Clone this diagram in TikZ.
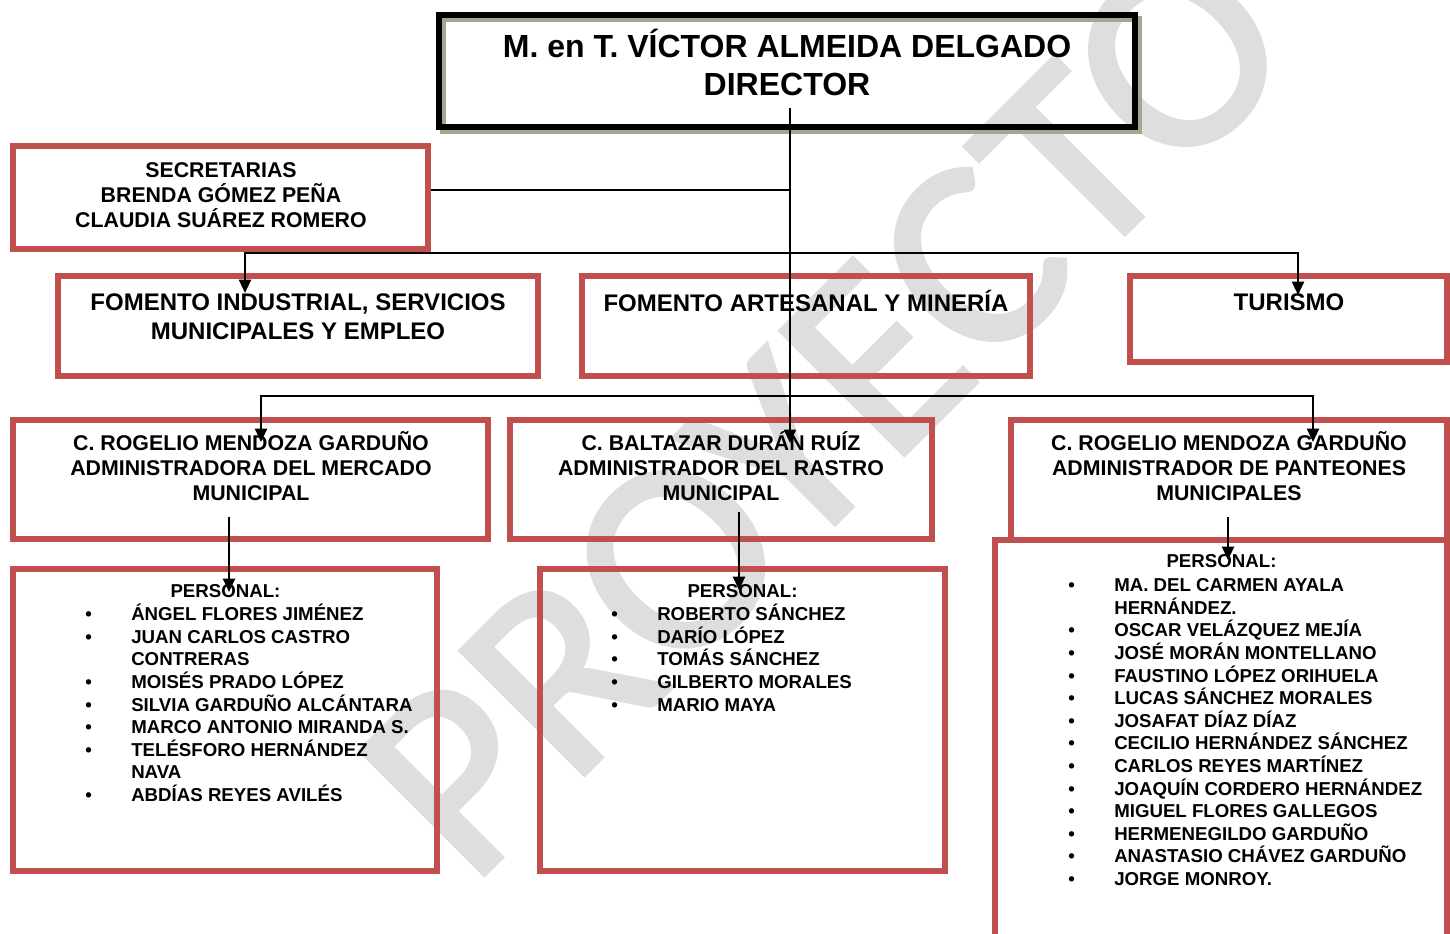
\documentclass[tikz,border=0pt]{standalone}
\usepackage{fontspec}
\setmainfont{Liberation Sans}
\newfontfamily\wmfont[FakeBold=1.6]{Carlito}
\usetikzlibrary{arrows.meta}
\definecolor{boxred}{HTML}{C0504D}
\definecolor{shadowgreen}{HTML}{A0AA8A}
\definecolor{wmgray}{HTML}{DEDEDE}
\newcommand\itm[1]{\hbox{\makebox[34.5pt][l]{•}#1}}
\newcommand\cnt[1]{\hbox{\hspace*{34.5pt}#1}}
\newcommand\lst[1]{\vtop{\baselineskip=16.95pt\lineskiplimit=-100pt\lineskip=0pt #1}}
\begin{document}
\begin{tikzpicture}[x=0.75pt,y=-0.75pt,
  redbox/.style={draw=boxred,line width=4.5pt,inner sep=0pt},
  blackbox/.style={draw=black,line width=5pt,inner sep=0pt},
  shadowbox/.style={draw=shadowgreen,line width=4.5pt,inner sep=0pt},
  bigtxt/.style={font=\fontsize{24}{28.5}\selectfont\bfseries,align=center,inner sep=0pt},
  midtxt/.style={font=\fontsize{18}{21.75}\selectfont\bfseries,align=center,inner sep=0pt},
  smalltxt/.style={font=\fontsize{16}{18.75}\selectfont\bfseries,align=center,inner sep=0pt},
  listtxt/.style={font=\fontsize{14}{16.9}\selectfont\bfseries,inner sep=0pt},
  conn/.style={draw=black,line width=1.5pt,line join=miter},
  arr/.style={conn,-{Triangle[width=9pt,length=10pt]}},
  arrboth/.style={conn,{Triangle[width=9pt,length=10pt]}-{Triangle[width=9pt,length=10pt]}}
]
\clip (0,0) rectangle (1450,933);
\fill[white] (0,0) rectangle (1450,933);
% watermark
\node[rotate=45,text=wmgray,font=\wmfont\fontsize{205}{205}\selectfont,inner sep=0pt] (wm) at (825,410) {PROYECTO};

% director
\node[shadowbox,minimum width=696*0.75pt,minimum height=112*0.75pt] (dirsh) at (791,75) {};
\node[blackbox,minimum width=696*0.75pt,minimum height=112*0.75pt] (dir) at (787,71) {};
\node[bigtxt] (dirT) at (787,62.6) {M. en T. VÍCTOR ALMEIDA DELGADO\\DIRECTOR};

% secretarias
\node[redbox,minimum width=415*0.75pt,minimum height=103*0.75pt] (sec) at (220.5,197.5) {};
\node[smalltxt] (secT) at (221,195) {SECRETARIAS\\BRENDA GÓMEZ PEÑA\\CLAUDIA SUÁREZ ROMERO};

% second level
\node[redbox,minimum width=480*0.75pt,minimum height=100*0.75pt] (fi) at (298,326) {};
\node[midtxt] (fiT) at (298,316.5) {FOMENTO INDUSTRIAL, SERVICIOS\\MUNICIPALES Y EMPLEO};
\node[redbox,minimum width=448*0.75pt,minimum height=100*0.75pt] (fa) at (806,326) {};
\node[midtxt] (faT) at (806,301.4) {FOMENTO ARTESANAL Y MINERÍA};
\node[redbox,minimum width=317*0.75pt,minimum height=86*0.75pt] (tu) at (1288.5,319) {};
\node[midtxt] (tuT) at (1289,302) {TURISMO};

% third level
\node[redbox,minimum width=475*0.75pt,minimum height=119*0.75pt] (ma) at (250.5,479.5) {};
\node[smalltxt] (maT) at (251,466) {C. ROGELIO MENDOZA GARDUÑO\\ADMINISTRADORA DEL MERCADO\\MUNICIPAL};
\node[redbox,minimum width=422*0.75pt,minimum height=119*0.75pt] (ra) at (721,479.5) {};
\node[smalltxt] (raT) at (721,466) {C. BALTAZAR DURÁN RUÍZ\\ADMINISTRADOR DEL RASTRO\\MUNICIPAL};
\node[redbox,minimum width=436*0.75pt,minimum height=120*0.75pt] (pa) at (1229,480) {};
\node[smalltxt] (paT) at (1229,466) {C. ROGELIO MENDOZA GARDUÑO\\ADMINISTRADOR DE PANTEONES\\MUNICIPALES};

% personal boxes
\node[redbox,minimum width=424*0.75pt,minimum height=302*0.75pt] (pA) at (225,720) {};
\node[listtxt,anchor=base] (pAh) at (225.5,597.7) {PERSONAL:};
\node[listtxt,anchor=base west] (pAl) at (85,620.7) {\lst{%
\itm{ÁNGEL FLORES JIMÉNEZ}
\itm{JUAN CARLOS CASTRO}
\cnt{CONTRERAS}
\itm{MOISÉS PRADO LÓPEZ}
\itm{SILVIA GARDUÑO ALCÁNTARA}
\itm{MARCO ANTONIO MIRANDA S.}
\itm{TELÉSFORO HERNÁNDEZ}
\cnt{NAVA}
\itm{ABDÍAS REYES AVILÉS}}};

\node[redbox,minimum width=405*0.75pt,minimum height=302*0.75pt] (pB) at (742.5,720) {};
\node[listtxt,anchor=base] (pBh) at (742.5,597.7) {PERSONAL:};
\node[listtxt,anchor=base west] (pBl) at (611,620.7) {\lst{%
\itm{ROBERTO SÁNCHEZ}
\itm{DARÍO LÓPEZ}
\itm{TOMÁS SÁNCHEZ}
\itm{GILBERTO MORALES}
\itm{MARIO MAYA}}};

\node[redbox,minimum width=452*0.75pt,minimum height=410*0.75pt] (pC) at (1221,745) {};
\node[listtxt,anchor=base] (pCh) at (1221.5,567.7) {PERSONAL:};
\node[listtxt,anchor=base west] (pCl) at (1068,591.7) {\lst{%
\itm{MA. DEL CARMEN AYALA}
\cnt{HERNÁNDEZ.}
\itm{OSCAR VELÁZQUEZ MEJÍA}
\itm{JOSÉ MORÁN MONTELLANO}
\itm{FAUSTINO LÓPEZ ORIHUELA}
\itm{LUCAS SÁNCHEZ MORALES}
\itm{JOSAFAT DÍAZ DÍAZ}
\itm{CECILIO HERNÁNDEZ SÁNCHEZ}
\itm{CARLOS REYES MARTÍNEZ}
\itm{JOAQUÍN CORDERO HERNÁNDEZ}
\itm{MIGUEL FLORES GALLEGOS}
\itm{HERMENEGILDO GARDUÑO}
\itm{ANASTASIO CHÁVEZ GARDUÑO}
\itm{JORGE MONROY.}}};

% connector coordinates
\coordinate (dirS) at (790,108);
\coordinate (j1) at (790,190);
\coordinate (h1L) at (245,253);
\coordinate (h1R) at (1298,253);
\coordinate (fiTip) at (245,293);
\coordinate (tuTip) at (1298,295);
\coordinate (h2L) at (261,396);
\coordinate (h2R) at (1313,396);
\coordinate (maTip) at (261,442);
\coordinate (raTip) at (790,443);
\coordinate (paTip) at (1313,442);
\coordinate (maS) at (229,517);
\coordinate (pATip) at (229,592);
\coordinate (raS) at (739,512);
\coordinate (pBTip) at (739,590);
\coordinate (paS) at (1228,517);
\coordinate (pCTip) at (1228,560);

% connectors
\draw[conn,line width=1.2pt] (sec.east |- j1) -- (j1);
\draw[arr,line width=1.2pt] (dirS) -- (raTip);
\draw[arrboth] (fiTip) -- (h1L) -- (h1R) -- (tuTip);
\draw[arrboth] (maTip) -- (h2L) -- (h2R) -- (paTip);
\draw[arr] (maS) -- (pATip);
\draw[arr] (raS) -- (pBTip);
\draw[arr] (paS) -- (pCTip);
\end{tikzpicture}
\end{document}
